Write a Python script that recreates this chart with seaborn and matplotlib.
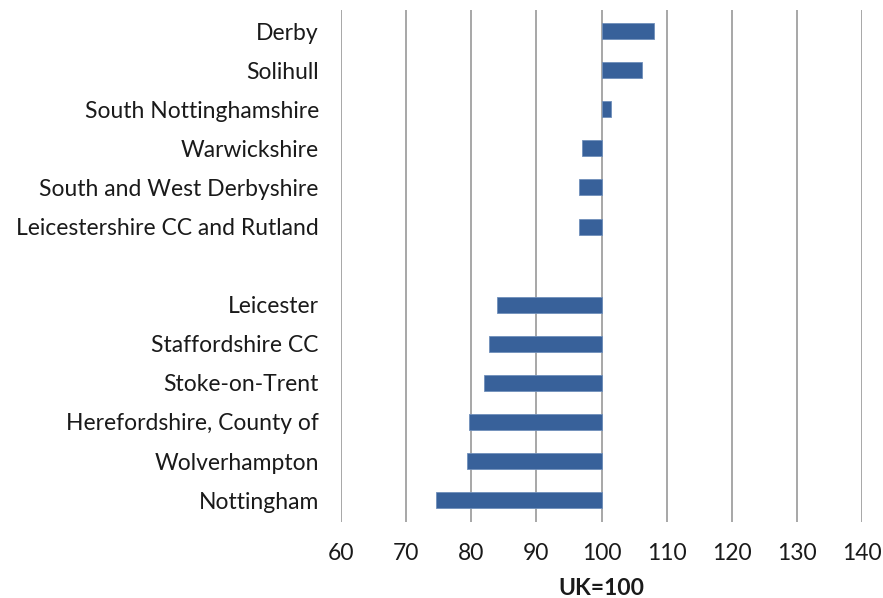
import matplotlib
matplotlib.use("Agg")
import matplotlib.pyplot as plt
import seaborn as sns
import pandas as pd
from matplotlib.ticker import FixedLocator, FuncFormatter

areas = ["Derby", "Solihull", "South Nottinghamshire", "Warwickshire",
         "South and West Derbyshire", "Leicestershire CC and Rutland",
         "Leicester", "Staffordshire CC", "Stoke-on-Trent",
         "Herefordshire, County of", "Wolverhampton", "Nottingham"]
index_values = [108.1, 106.2, 101.4, 97.0, 96.5, 96.5,
                84.0, 82.7, 82.0, 79.7, 79.3, 74.6]
order = areas[:6] + [" "] + areas[6:]
baseline = 100
tick_values = [60, 70, 80, 90, 100, 110, 120, 130, 140]

sns.set_theme(style="white")
plt.rcParams["font.family"] = ["Lato", "DejaVu Sans"]

df = pd.DataFrame({"area": areas, "value": index_values})
df["dev"] = df["value"] - baseline

fig = plt.figure(figsize=(8.83, 5.98), dpi=100)
ax = fig.add_axes([341/883, 1-522/598, (862-341)/883, (522-10)/598])

ax.xaxis.grid(True, color="#a0a0a0", linewidth=1.3)
ax.set_axisbelow(True)
sns.barplot(data=df, y="area", x="dev", order=order, orient="h",
            color="#38619a", saturation=1, width=0.41, ax=ax,
            edgecolor="#6f8fbb", linewidth=0.6)

ax.set_xlim(tick_values[0]-baseline, tick_values[-1]-baseline)
ax.set_ylim(12.56, -0.54)
ax.xaxis.set_major_locator(FixedLocator([t-baseline for t in tick_values]))
ax.xaxis.set_major_formatter(FuncFormatter(lambda v, p: f"{v+baseline:.0f}"))
for s in ax.spines.values():
    s.set_visible(False)
ax.tick_params(axis="x", length=0, pad=15, labelsize=16.5, labelcolor="#1a1a1a")
ax.tick_params(axis="y", length=0, pad=16, labelsize=16.5, labelcolor="#1a1a1a")
ax.set_ylabel("")
ax.set_xlabel("UK=100", fontsize=16.5, fontweight="bold", color="#1a1a1a", labelpad=10)

fig.savefig("out.png", dpi=100)
